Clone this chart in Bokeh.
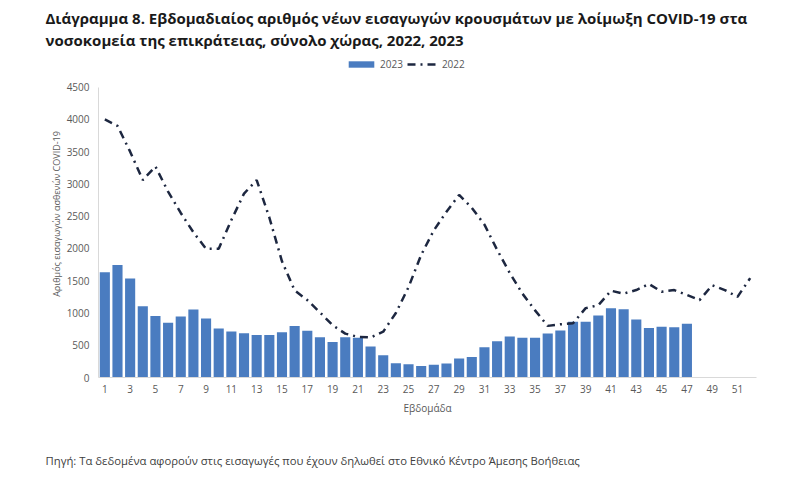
from bokeh.plotting import figure
from bokeh.models import Range1d, FixedTicker, Title, Legend, LegendItem
from bokeh.embed import file_html
from bokeh.resources import INLINE

title_line1 = "Διάγραμμα 8. Εβδομαδιαίος αριθμός νέων εισαγωγών κρουσμάτων με λοίμωξη COVID-19 στα"
title_line2 = "νοσοκομεία της επικράτειας, σύνολο χώρας, 2022, 2023"
footer = "Πηγή: Τα δεδομένα αφορούν στις εισαγωγές που έχουν δηλωθεί στο Εθνικό Κέντρο Άμεσης Βοήθειας"
y_label = "Αριθμός εισαγωγών ασθενών COVID-19"
x_label = "Εβδομάδα"

weeks_2023 = list(range(1, 48))
values_2023 = [1630, 1745, 1535, 1105, 955, 850, 945, 1055, 915, 760,
               712, 685, 660, 660, 700, 800, 725, 625, 550, 625,
               615, 480, 345, 220, 205, 180, 198, 218, 296, 318,
               467, 561, 634, 618, 618, 681, 727, 863, 863, 961,
               1075, 1059, 899, 769, 785, 779, 832]

weeks_2022 = list(range(1, 53))
values_2022 = [4000, 3900, 3500, 3060, 3270, 2880, 2550, 2250, 1995, 1995,
               2440, 2850, 3060, 2480, 1800, 1350, 1200, 1010, 810, 680,
               630, 620, 710, 1000, 1400, 1900, 2280, 2570, 2830, 2630,
               2370, 1980, 1620, 1300, 1040, 800, 825, 840, 1075, 1120,
               1345, 1300, 1355, 1450, 1330, 1355, 1280, 1200, 1430, 1355,
               1250, 1540]

x_ticks = list(range(1, 52, 2))
y_ticks = list(range(0, 4501, 500))

BAR = "#4A7CC0"
LINE = "#1D2740"
GREY = "#595959"
FONT = "Open Sans"

p = figure(width=790, height=470, output_backend="svg", toolbar_location=None,
           x_range=Range1d(0.5, 52.5), y_range=Range1d(0, 5068),
           min_border_left=98, min_border_right=34, min_border_top=50, min_border_bottom=93)
p.outline_line_color = None
p.xgrid.grid_line_color = None
p.ygrid.grid_line_color = None

bars = p.vbar(x=weeks_2023, top=values_2023, width=0.8, fill_color=BAR, line_color=None)
line = p.line(weeks_2022, values_2022, line_color=LINE, line_width=2.5, line_dash="8 5 2 5")

for ax in (p.xaxis[0], p.yaxis[0]):
    ax.major_tick_line_color = None
    ax.minor_tick_line_color = None
    ax.major_tick_out = 0
    ax.major_tick_in = 0
    ax.minor_tick_out = 0
    ax.major_label_text_font = FONT
    ax.major_label_text_font_size = "10px"
    ax.major_label_text_color = GREY
    ax.axis_label_text_font = FONT
    ax.axis_label_text_font_style = "normal"
    ax.axis_label_text_color = GREY
    ax.axis_line_color = "#D9D9D9"

p.yaxis.bounds = (0, 4500)
p.xaxis.ticker = FixedTicker(ticks=x_ticks)
p.yaxis.ticker = FixedTicker(ticks=y_ticks)
p.xaxis.major_label_standoff = 7
p.yaxis.major_label_standoff = 9
p.xaxis.axis_label = x_label
p.xaxis.axis_label_text_font_size = "10px"
p.xaxis.axis_label_standoff = 5
p.yaxis.axis_label = y_label
p.yaxis.axis_label_text_font_size = "9px"
p.yaxis.axis_label_standoff = 1

legend = Legend(items=[LegendItem(label="2023", renderers=[bars]),
                       LegendItem(label="2022", renderers=[line])],
                orientation="horizontal", location=(247, 306),
                glyph_width=32, glyph_height=8, label_height=10,
                label_text_font=FONT, label_text_font_size="10px", label_text_color=GREY,
                label_standoff=3, spacing=4, padding=0, margin=0,
                border_line_color=None, background_fill_alpha=0)
p.add_layout(legend)

p.add_layout(Title(text=title_line2, align="left", offset=-53, standoff=1,
                   text_font=FONT, text_font_style="bold", text_font_size="15px",
                   text_color="#1A1A1A"), "above")
p.add_layout(Title(text=title_line1, align="left", offset=-53, standoff=0,
                   text_font=FONT, text_font_style="bold", text_font_size="15px",
                   text_color="#1A1A1A"), "above")
# empty spacer between the x axis and the source note
p.add_layout(Title(text=" ", align="left", standoff=17,
                   text_font=FONT, text_font_size="10px"), "below")
p.add_layout(Title(text=footer, align="left", offset=-53, standoff=0,
                   text_font=FONT, text_font_style="normal", text_font_size="11.3px",
                   text_color="#404040"), "below")

open("out.html", "w").write(file_html(p, INLINE))
